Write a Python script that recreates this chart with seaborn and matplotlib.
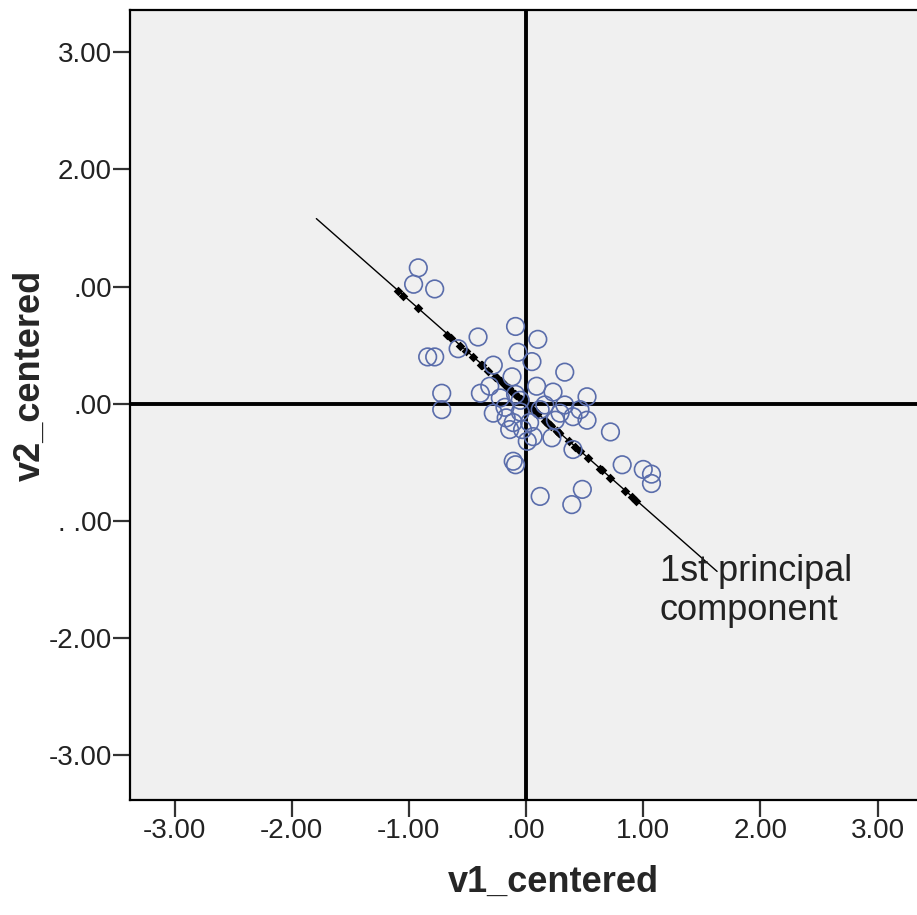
import numpy as np
import pandas as pd
import matplotlib
matplotlib.use("Agg")
import matplotlib.pyplot as plt
import seaborn as sns

# centered variables
v1_centered = [-0.92, -0.96, -0.78, -0.41, -0.58, -0.84, -0.78, -0.09, 0.10, -0.07,
               0.05, -0.28, 0.33, -0.12, 0.09, 0.23, -0.39, -0.72, -0.72, -0.28,
               -0.31, 0.52, -0.11, -0.14, 0.03, 0.06, 0.29, 0.40, 0.52, 0.72,
               0.22, 0.40, -0.11, -0.09, 0.82, 1.00, 1.07, 1.07, 0.12, 0.48,
               0.39, 0.01, -0.22, -0.18, -0.05, -0.05, 0.16, 0.33, 0.46, 0.25,
               -0.09, -0.03, -0.17, 0.12]
v2_centered = [1.16, 1.02, 0.98, 0.57, 0.47, 0.40, 0.40, 0.66, 0.55, 0.44,
               0.36, 0.33, 0.27, 0.23, 0.15, 0.10, 0.09, 0.09, -0.05, -0.08,
               0.15, 0.06, -0.16, -0.22, -0.16, -0.28, -0.08, -0.11, -0.14, -0.24,
               -0.29, -0.39, -0.49, -0.52, -0.52, -0.56, -0.60, -0.68, -0.79, -0.73,
               -0.86, -0.32, 0.05, -0.03, 0.03, -0.07, -0.01, -0.01, -0.05, -0.14,
               0.08, -0.22, -0.12, -0.05]

# ends of the drawn principal component line
pc_x = [-1.79, 1.63]
pc_y = [1.58, -1.43]

ticks = [-3, -2, -1, 0, 1, 2, 3]
x_ticklabels = ["-3.00", "-2.00", "-1.00", ".00", "1.00", "2.00", "3.00"]
y_ticklabels = ["-3.00", "-2.00", ". .00", ".00", ".00", "2.00", "3.00"]

df = pd.DataFrame({"v1_centered": v1_centered, "v2_centered": v2_centered})

# projections of the points onto the component line
d = np.array([pc_x[1] - pc_x[0], pc_y[1] - pc_y[0]])
d = d / np.linalg.norm(d)
t = df["v1_centered"] * d[0] + df["v2_centered"] * d[1]
proj = pd.DataFrame({"x": t * d[0], "y": t * d[1]})

sns.set_style("ticks", {"axes.facecolor": "#f0f0f0", "axes.edgecolor": "black"})
plt.rcParams["font.family"] = ["Liberation Sans", "DejaVu Sans"]

fig = plt.figure(figsize=(9.17, 9.15), dpi=100)
# the plot frame runs past the right edge of the picture
ax = fig.add_axes([0.1418, 0.1257, 0.9226, 0.8634])

ax.axvline(0, color="black", lw=2.8, zorder=1)
ax.axhline(0, color="black", lw=2.8, zorder=1)

ax.plot(pc_x, pc_y, color="black", lw=1.0, zorder=2)
sns.scatterplot(data=proj, x="x", y="y", marker="D", s=24, color="black",
                edgecolor="black", linewidth=0, ax=ax, zorder=3)

sns.scatterplot(data=df, x="v1_centered", y="v2_centered", s=160, marker="o",
                facecolors="none", edgecolor="#5a6dab", linewidth=1.2, ax=ax, zorder=4)

ax.text(1.14, -1.28, "1st principal\ncomponent", fontsize=26, color="#222222",
        va="top", ha="left", linespacing=1.15, zorder=5)

ax.set_xlim(-3.38, 3.84)
ax.set_ylim(-3.38, 3.36)
ax.set_xticks(ticks)
ax.set_xticklabels(x_ticklabels)
ax.set_yticks(ticks)
ax.set_yticklabels(y_ticklabels)
ax.tick_params(axis="both", length=12, width=1.6, labelsize=20, color="#333333",
               labelcolor="#222222", pad=1)

for s in ax.spines.values():
    s.set_linewidth(1.6)

ax.set_xlabel("v1_centered", fontsize=26, fontweight="bold")
ax.set_ylabel("v2_centered", fontsize=26, fontweight="bold")
ax.xaxis.set_label_coords(0.5, -0.082)
ax.yaxis.set_label_coords(-0.097, 0.538)

fig.savefig("out.png", dpi=100)
